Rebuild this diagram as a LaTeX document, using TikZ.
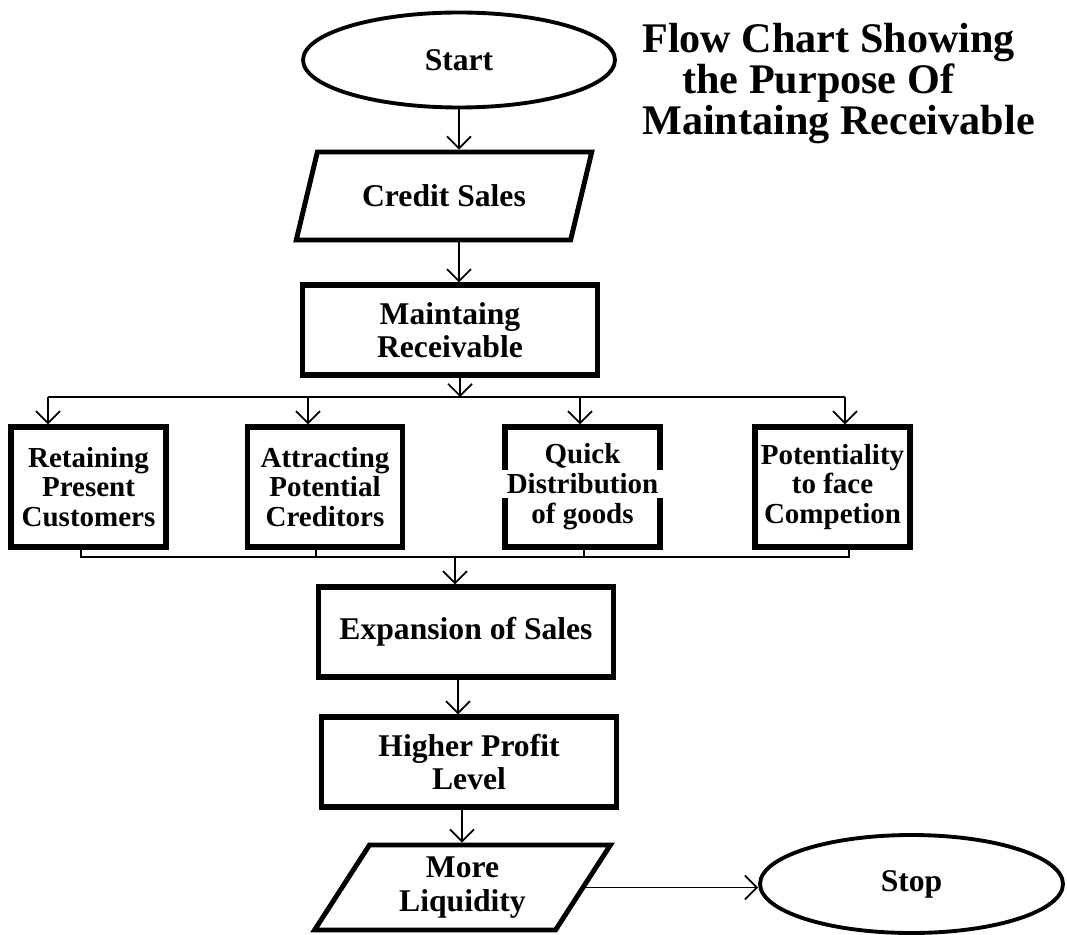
\documentclass[tikz,border=0pt]{standalone}
\usepackage{fontspec}
\setmainfont{Liberation Serif}
\usepackage{tikz}
\usetikzlibrary{shapes.geometric,arrows.meta,positioning,calc}
\definecolor{fcInk}{RGB}{0,0,0}
\setlength{\fboxsep}{2pt}
\tikzset{
    fcBoxBase/.style={
        rectangle,
        draw=fcInk,
        line width=3pt,
        inner sep=0pt,
        align=center,
        font=\fontsize{18}{19}\selectfont\bfseries
    },
    % Flow chart shapes
    fcTerminal/.style={fcBoxBase, ellipse, line width=2.2pt},
    fcData/.style={fcBoxBase, trapezium, trapezium left angle=58.5, trapezium right angle=121.5,
        trapezium stretches=true, line width=2.8pt, minimum width=5.92cm},
    fcProcess/.style={fcBoxBase, minimum width=5.9cm, minimum height=1.8cm},
    fcPurpose/.style={fcBoxBase, minimum width=3.1cm, minimum height=2.4cm,
        font=\fontsize{16.5}{17}\selectfont\bfseries},
    % Connectors
    fcLine/.style={draw=fcInk, line width=1pt},
    fcArrow/.style={fcLine, -{Straight Barb[length=2.4mm,width=4.8mm]}}
}

\begin{document}
\begin{tikzpicture}[x=0.02cm, y=-0.02cm]
\path[fill=white, use as bounding box] (0,0) rectangle (1067,935);

% main chain
\node[fcTerminal, minimum width=6.24cm, minimum height=1.9cm] (start) at (459,60) {Start};
\node[font=\fontsize{24}{23.2}\selectfont\bfseries, align=left, anchor=north west, inner sep=0pt] (title) at (642,23)
    {Flow Chart Showing\\\hspace*{0.8cm}the Purpose Of\\Maintaing Receivable};
\node[fcData, minimum height=1.76cm] (credit) at (444,196) {Credit Sales};
\node[fcProcess] (maint) at (450,330) {Maintaing\\Receivable};

% purposes
\node[fcPurpose] (retain) at (88.5,487) {Retaining\\Present\\Customers};
\node[fcPurpose] (attract) at (325,487) {Attracting\\Potential\\Creditors};
\node[fcPurpose] (quick) at (582.5,487)
    {Quick\\\makebox[0pt]{\colorbox{white}{\hspace{3pt}Distribution\hspace{3pt}}}\\of goods};
\node[fcPurpose] (compete) at (832.5,487) {Potentiality\\to face\\Competion};

\node[fcProcess] (expand) at (466,632) {Expansion of Sales};
\node[fcProcess] (profit) at (469,762) {Higher Profit\\Level};
\node[fcData, minimum height=1.7cm] (liquid) at (462.5,887.5) {More\\Liquidity};
\node[fcTerminal, minimum width=6.06cm, minimum height=1.96cm] (stop) at (911.5,884) {Stop};

% bus points
\coordinate (busIn) at (460,397);
\coordinate (top1) at (48,397);
\coordinate (top2) at (308,397);
\coordinate (top3) at (580,397);
\coordinate (top4) at (845,397);
\coordinate (bot1) at (81,557);
\coordinate (bot2) at (316,557);
\coordinate (bot3) at (584,557);
\coordinate (bot4) at (849,557);
\coordinate (busOut) at (455,557);

\draw[fcArrow] (start) -- (start |- credit.north);
\draw[fcArrow] (credit.south -| start) -- (start |- maint.north);
\draw[fcArrow] (maint.south -| busIn) -- (busIn);
\draw[fcLine] (top1) -- (top4);
\draw[fcArrow] (top1) -- (top1 |- retain.north);
\draw[fcArrow] (top2) -- (top2 |- attract.north);
\draw[fcArrow] (top3) -- (top3 |- quick.north);
\draw[fcArrow] (top4) -- (top4 |- compete.north);

\draw[fcLine] (retain.south -| bot1) -- (bot1) -- (bot4) -- (compete.south -| bot4);
\draw[fcLine] (attract.south -| bot2) -- (bot2);
\draw[fcLine] (quick.south -| bot3) -- (bot3);
\draw[fcArrow] (busOut) -- (busOut |- expand.north);

\draw[fcArrow] ([xshift=-0.16cm]expand.south) -- ([xshift=-0.16cm]expand.south |- profit.north);
\draw[fcArrow] ([xshift=-0.14cm]profit.south) -- ([xshift=-0.14cm]profit.south |- liquid.north);
\draw[fcArrow] (liquid.east) -- (liquid.east -| stop.west);
\end{tikzpicture}
\end{document}
